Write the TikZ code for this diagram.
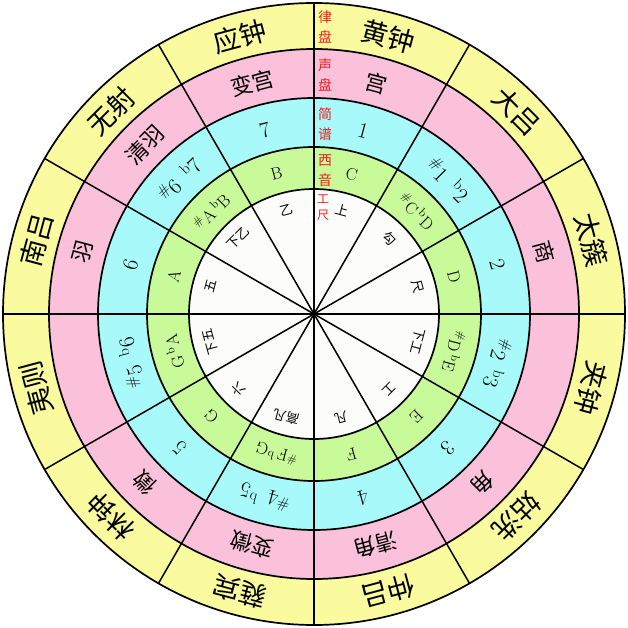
\documentclass[tikz,border=0pt]{standalone}
\usepackage{fontspec}
\newfontfamily\cjk{Noto Sans CJK SC}
\usetikzlibrary{positioning}
\definecolor{lvyellow}{RGB}{250,250,158}
\definecolor{shengpink}{RGB}{251,192,218}
\definecolor{jianblue}{RGB}{168,249,250}
\definecolor{xigreen}{RGB}{200,250,154}
\definecolor{gongwhite}{RGB}{252,252,250}
\definecolor{tagred}{RGB}{240,30,30}
\newcommand\shp{\textsuperscript{\#}}
\newcommand\flt{\textsuperscript{b}}
\tikzset{
  ringline/.style={draw=black, line width=1.7pt},
  spoke/.style={black, line width=1.5pt},
  lvtext/.style={font=\cjk\fontsize{27}{27}\selectfont, inner sep=0pt},
  shengtext/.style={font=\cjk\fontsize{22}{22}\selectfont, inner sep=0pt},
  jiantext/.style={font=\fontsize{22}{22}\selectfont, inner sep=0pt},
  xitext/.style={font=\fontsize{17}{17}\selectfont, inner sep=0pt},
  gongtext/.style={font=\cjk\fontsize{13}{13}\selectfont, inner sep=0pt},
  tagtext/.style={font=\cjk\fontsize{14}{20}\selectfont, text=tagred,
    align=center, inner sep=0pt}
}
\begin{document}
\begin{tikzpicture}[x=1pt, y=1pt]
  \useasboundingbox (-314,-314) rectangle (314,314);
  % Ring fills, outer to inner
  \fill[lvyellow] (0,0) circle (311pt);
  \fill[shengpink] (0,0) circle (265pt);
  \fill[jianblue] (0,0) circle (216pt);
  \fill[xigreen] (0,0) circle (167pt);
  \fill[gongwhite] (0,0) circle (125pt);

  % Twelve spokes
  \foreach \a in {0,30,...,150}
    \draw[spoke] (\a:311pt) -- (\a+180:311pt);

  % Ring outlines
  \foreach \r in {311,265,216,167,125}
    \draw[ringline] (0,0) circle (\r pt);

  % Sector labels, clockwise from the top
  \foreach \lv/\sheng/\jian/\xi/\gong [count=\k from 0] in {
      黄钟/宫/1/C/上,
      大吕/{}/{\shp1\, \flt2}/{\shp C\,\flt D}/勾,
      太簇/商/2/D/尺,
      夹钟/{}/{\shp2\, \flt3}/{\shp D\,\flt E}/下工,
      姑洗/角/3/E/工,
      仲吕/清角/4/F/凡,
      蕤宾/变徵/{\shp4\, \flt5}/{\shp F\,\flt G}/高凡,
      林钟/徵/5/G/六,
      夷则/{}/{\shp5\, \flt6}/{G\,\flt A}/下五,
      南吕/羽/6/A/五,
      无射/清羽/{\shp6\, \flt7}/{\shp A\,\flt B}/下乙,
      应钟/变宫/7/B/乙} {
    \pgfmathsetmacro\t{15+30*\k}
    \node[lvtext, rotate=-\t] (lv\k) at (90-\t:287pt) {\lv};
    \node[shengtext, rotate=-\t] (sheng\k) at (90-\t:239pt) {\sheng};
    \node[jiantext, rotate=-\t] (jian\k) at (90-\t:190pt) {\jian};
    \node[xitext, rotate=-\t] (xi\k) at (90-\t:145pt) {\xi};
    \node[gongtext, rotate=-\t] (gong\k) at (90-\t:107pt) {\gong};
  }

  % Red ring names beside the top spoke
  \node[tagtext] (taglv) at (11,287) {律\\盘};
  \node[tagtext] (tagsheng) at (11,239) {声\\盘};
  \node[tagtext] (tagjian) at (11,190) {简\\谱};
  \node[tagtext] (tagxi) at (11,143) {西\\音};
  \node[tagtext, font=\cjk\fontsize{12}{16}\selectfont] (taggong) at (9,106) {工\\尺};
\end{tikzpicture}
\end{document}
